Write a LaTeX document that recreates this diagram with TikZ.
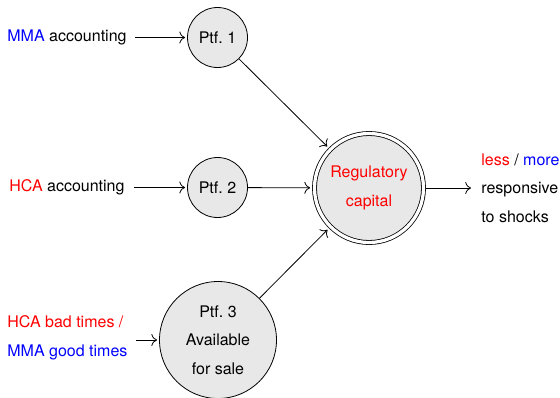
\documentclass[tikz,border=0pt]{standalone}
\usepackage{fontspec}
\usetikzlibrary{arrows.meta}
\setmainfont{TeX Gyre Heros}
\begin{document}
\begin{tikzpicture}[x=1pt,y=-1pt,line width=.8pt,>={To[scale=1.7]},
            every node/.style={font=\fontsize{16}{28.5}\selectfont},
            ptf/.style={circle,draw,fill=black!9,inner sep=0pt,align=center},
            lab/.style={inner sep=0pt,align=left,anchor=west}]
            \useasboundingbox (0,0) rectangle (560,397);
            \def\xp{217.5}
            \def\gap{8pt}
            \node[ptf,minimum size=60pt] (p1) at (\xp,37.5) {Ptf.~1};
            \node[ptf,minimum size=60pt] (p2) at (\xp,187.5) {Ptf.~2};
            \node[ptf,minimum size=117pt] (p3) at (218,340) {Ptf.~3\\Available\\for sale};
            \node[ptf,minimum size=109pt,double,double distance=3.2pt,text=red] (reg) at (369,188) {Regulatory\\capital};
            \node[lab] (mma) at (7,37.5) {\textcolor{blue}{MMA} accounting};
            \node[lab] (hca) at (9,187.5) {\textcolor{red}{HCA} accounting};
            \node[lab] (afs) at (7,338) {\textcolor{red}{HCA bad times /}\\\textcolor{blue}{MMA good times}};
            \node[lab] (out) at (481,188) {\textcolor{red}{less} / \textcolor{blue}{more}\\responsive\\to shocks};
            \draw[->,shorten <=\gap,shorten >=2pt] (mma) -- (p1);
            \draw[->,shorten <=9pt,shorten >=2pt] (hca) -- (p2);
            \draw[->,shorten <=\gap,shorten >=2pt] (afs.east |- p3) -- (p3);
            \foreach \p in {p1,p2,p3}\draw[->,shorten >=4pt] (\p) -- (reg);
            \draw[->,shorten <=2pt,shorten >=10pt] (reg) -- (out);
        \end{tikzpicture}
\end{document}
